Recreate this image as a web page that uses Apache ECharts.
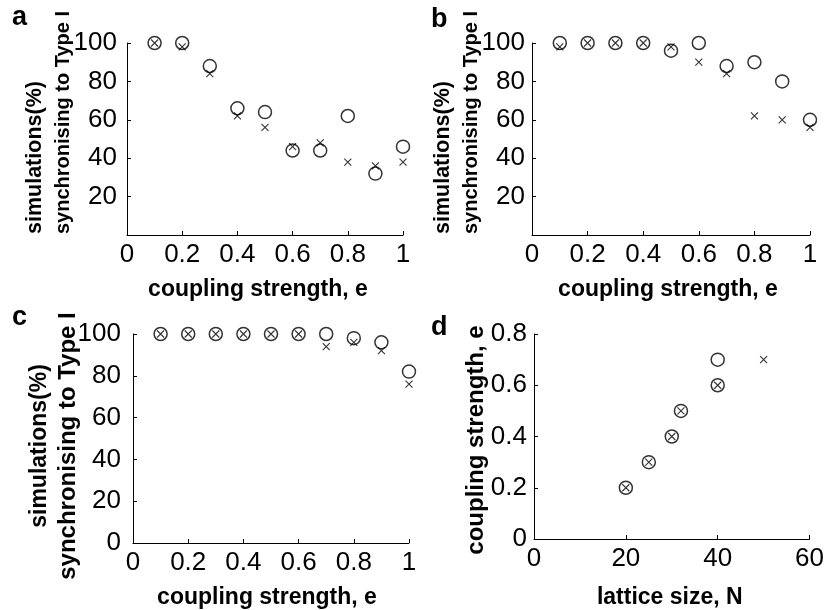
<!DOCTYPE html>
<html>
<head>
<meta charset="utf-8">
<script src="https://cdn.jsdelivr.net/npm/echarts@6/dist/echarts.min.js"></script>
<style>
html, body { margin: 0; padding: 0; background: #fff; }
#chart { width: 827px; height: 610px; }
</style>
</head>
<body>
<div id="chart"></div>
<script>
// data
var couplingE = [0.1, 0.2, 0.3, 0.4, 0.5, 0.6, 0.7, 0.8, 0.9, 1.0];
var aCircle = [100, 100, 88, 66, 64, 44, 44, 62, 32, 46];
var aCross = [100, 98, 84, 62, 56, 46, 48, 38, 36, 38];
var bCircle = [100, 100, 100, 100, 96, 100, 88, 90, 80, 60];
var bCross = [98, 100, 100, 100, 98, 90, 84, 62, 60, 56];
var cCircle = [100, 100, 100, 100, 100, 100, 100, 98, 96, 82];
var cCross = [100, 100, 100, 100, 100, 100, 94, 96, 92, 76];
var dCircleN = [20, 25, 30, 32, 40, 40];
var dCircleE = [0.2, 0.3, 0.4, 0.5, 0.6, 0.7];
var dCrossN = [20, 25, 30, 32, 40, 50];
var dCrossE = [0.2, 0.3, 0.4, 0.5, 0.6, 0.7];

var panelLetters = ['a', 'b', 'c', 'd'];
var percentLine1 = 'simulations(%)';
var percentLine2 = 'synchronising to Type I';
var couplingLabel = 'coupling strength, e';
var latticeLabel = 'lattice size, N';

//function
var FONT = '"Liberation Sans", Arial, Helvetica, sans-serif';
var CROSS = 'path://M0 0L10 10M10 0L0 10';

function pairs(xs, ys) {
    return xs.map(function(x, i) { return [x, ys[i]]; });
}

function axisBase(min, max, interval, hideMin) {
    return {
        type: 'value',
        min: min,
        max: max,
        interval: interval,
        splitLine: { show: false },
        axisLine: { show: true, onZero: false, lineStyle: { color: '#000', width: 1 } },
        axisTick: { show: true, inside: true, length: 4, lineStyle: { color: '#000' } },
        axisLabel: {
            color: '#000',
            fontFamily: FONT,
            fontSize: 26,
            formatter: function(v) {
                if (hideMin && v === min) return '';
                return String(+v.toFixed(2));
            }
        }
    };
}

function xAxisOf(idx, min, max, interval, name, gap, shift) {
    var ax = axisBase(min, max, interval, false);
    ax.gridIndex = idx;
    ax.axisLabel.margin = 7;
    ax.name = name;
    ax.nameLocation = 'middle';
    ax.nameGap = gap;
    ax.nameTextStyle = {
        color: '#000', fontFamily: FONT, fontSize: 23, fontWeight: 'bold',
        padding: [0, shift * 2, 0, 0]
    };
    return ax;
}

function yAxisOf(idx, min, max, interval, hideMin, margin) {
    var ax = axisBase(min, max, interval, hideMin);
    ax.gridIndex = idx;
    ax.axisLabel.margin = margin;
    return ax;
}

function circles(idx, data) {
    return {
        type: 'scatter', xAxisIndex: idx, yAxisIndex: idx, data: data,
        symbol: 'circle', symbolSize: 13,
        itemStyle: { color: 'rgba(0,0,0,0)', borderColor: '#000', borderWidth: 1.5 }
    };
}

function crosses(idx, data) {
    return {
        type: 'scatter', xAxisIndex: idx, yAxisIndex: idx, data: data,
        symbol: CROSS, symbolSize: 7,
        itemStyle: { color: 'none', borderColor: '#000', borderWidth: 1.1 }
    };
}

function letterEl(str, x, y) {
    return {
        type: 'text', x: x, y: y,
        style: { text: str, fill: '#000', fontFamily: FONT, fontSize: 27, fontWeight: 'bold', verticalAlign: 'bottom' }
    };
}

// rotated two-line y label, sizes per line
function percentEl(x, y, align, size1, size2, lh) {
    return {
        type: 'text', x: x, y: y, rotation: Math.PI / 2,
        style: {
            text: '{l1|' + percentLine1 + '}\n{l2|' + percentLine2 + '}',
            align: align, verticalAlign: 'middle',
            rich: {
                l1: { fill: '#000', fontFamily: FONT, fontWeight: 'bold', fontSize: size1, lineHeight: lh },
                l2: { fill: '#000', fontFamily: FONT, fontWeight: 'bold', fontSize: size2, lineHeight: lh }
            }
        }
    };
}

//chart
var chart = echarts.init(document.getElementById('chart'), null, { renderer: 'canvas' });

chart.setOption({
    animation: false,
    backgroundColor: '#fff',
    grid: [
        { left: 127, top: 43, width: 276, height: 192 },
        { left: 532, top: 43, width: 278, height: 192 },
        { left: 133, top: 334, width: 276, height: 209 },
        { left: 534, top: 334, width: 277, height: 212 }
    ],
    xAxis: [
        xAxisOf(0, 0, 1, 0.2, couplingLabel, 43, 7),
        xAxisOf(1, 0, 1, 0.2, couplingLabel, 43, 3),
        xAxisOf(2, 0, 1, 0.2, couplingLabel, 43, 4),
        xAxisOf(3, 0, 60, 20, latticeLabel, 47, 2)
    ],
    yAxis: [
        yAxisOf(0, 0, 100, 20, true, 10),
        yAxisOf(1, 0, 100, 20, true, 7),
        yAxisOf(2, 0, 100, 20, false, 12),
        yAxisOf(3, 0, 0.8, 0.2, false, 7)
    ],
    series: [
        circles(0, pairs(couplingE, aCircle)),
        crosses(0, pairs(couplingE, aCross)),
        circles(1, pairs(couplingE, bCircle)),
        crosses(1, pairs(couplingE, bCross)),
        circles(2, pairs(couplingE, cCircle)),
        crosses(2, pairs(couplingE, cCross)),
        circles(3, pairs(dCircleN, dCircleE)),
        crosses(3, pairs(dCrossN, dCrossE))
    ],
    graphic: [
        letterEl(panelLetters[0], 12, 31),
        letterEl(panelLetters[1], 431, 33),
        letterEl(panelLetters[2], 12, 331),
        letterEl(panelLetters[3], 431, 341),
        percentEl(49, 234, 'left', 21.5, 20, 28),
        percentEl(457, 234, 'left', 21.5, 20, 28),
        percentEl(54, 446, 'center', 23, 24, 29),
        {
            type: 'text', x: 476, y: 440, rotation: Math.PI / 2,
            style: {
                text: couplingLabel, fill: '#000', fontFamily: FONT, fontSize: 24, fontWeight: 'bold',
                align: 'center', verticalAlign: 'middle'
            }
        }
    ]
});
</script>
</body>
</html>
